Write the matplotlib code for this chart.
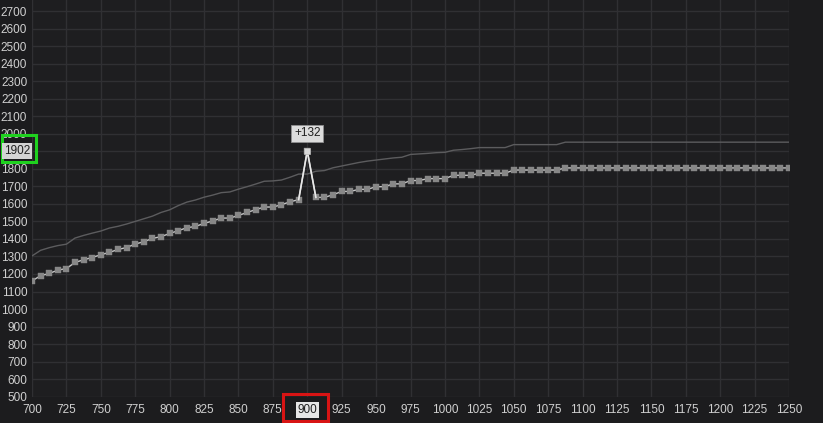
import matplotlib
matplotlib.use("Agg")
from matplotlib import pyplot as plt
from matplotlib.patches import Rectangle
from matplotlib.transforms import blended_transform_factory
import numpy as np

plt.rcParams['font.family'] = ['Liberation Sans', 'DejaVu Sans']

# voltage points (mV), one every 6.25 mV
voltage = np.arange(89) * 6.25 + 700

# edited curve (squares), MHz
curve_mhz = [1161, 1190, 1203, 1222, 1231, 1266, 1281, 1294, 1310, 1323,
             1340, 1351, 1371, 1384, 1403, 1413, 1431, 1447, 1464, 1471,
             1489, 1502, 1519, 1519, 1534, 1551, 1567, 1582, 1582, 1595,
             1612, 1624, 1902, 1637, 1637, 1652, 1671, 1671, 1683, 1683,
             1698, 1698, 1714, 1714, 1733, 1733, 1744, 1744, 1744, 1763,
             1763, 1763, 1775, 1775, 1775, 1775, 1793, 1793, 1793, 1793,
             1793, 1793, 1805, 1805, 1805, 1805, 1805, 1805, 1805, 1805,
             1805, 1805, 1805, 1805, 1805, 1805, 1805, 1805, 1805, 1805,
             1805, 1805, 1805, 1805, 1805, 1805, 1805, 1805, 1805]

# default curve (thin line), MHz
default_mhz = [1303, 1335, 1350, 1362, 1370, 1405, 1420, 1433, 1445, 1462,
               1472, 1485, 1500, 1515, 1530, 1551, 1566, 1590, 1610, 1622,
               1638, 1650, 1664, 1668, 1684, 1698, 1713, 1729, 1731, 1736,
               1752, 1770, 1770, 1786, 1790, 1806, 1816, 1826, 1836, 1844,
               1850, 1856, 1862, 1866, 1882, 1885, 1888, 1892, 1894, 1906,
               1910, 1915, 1921, 1921, 1921, 1921, 1938, 1938, 1938, 1938,
               1938, 1938, 1952, 1952, 1952, 1952, 1952, 1952, 1952, 1952,
               1952, 1952, 1952, 1952, 1952, 1952, 1952, 1952, 1952, 1952,
               1952, 1952, 1952, 1952, 1952, 1952, 1952, 1952, 1952]

x_ticks = [700, 725, 750, 775, 800, 825, 850, 875, 900, 925, 950, 975, 1000,
           1025, 1050, 1075, 1100, 1125, 1150, 1175, 1200, 1225, 1250]
y_ticks = [500, 600, 700, 800, 900, 1000, 1100, 1200, 1300, 1400, 1500, 1600,
           1700, 1800, 1900, 2000, 2100, 2200, 2300, 2400, 2500, 2600, 2700]

sel_index = 32          # the point that was moved
sel_offset = "+132"
sel_value = "1902"

fs = 8.5
bg = "#1c1c1e"
fig = plt.figure(figsize=(8.23, 4.23), dpi=100, facecolor=bg)
ax = fig.add_axes([32 / 823, 0.0622, 757 / 823, 0.9378])
ax.set_facecolor("#1e1e20")
ax.set_xlim(700, 1250)
ax.set_ylim(500, 2763)

for s in ax.spines.values():
    s.set_visible(False)

ax.set_xticks(x_ticks)
ax.set_xticklabels(["" if v == 900 else str(v) for v in x_ticks])
ax.set_yticks(y_ticks)
ax.set_yticklabels(["" if v == 1900 else str(v) for v in y_ticks])
ax.tick_params(length=0, colors="#d0d0d0", labelsize=fs)
ax.tick_params(axis="y", pad=3.4)
ax.tick_params(axis="x", pad=5)
ax.grid(True, color="#303033", lw=1)
ax.set_axisbelow(True)

# default curve
ax.plot(voltage, default_mhz, color="#5c5c5e", lw=1, zorder=2)

# edited curve: line + squares
ax.plot(voltage, curve_mhz, color="#c8c8c8", lw=1, zorder=3)
ax.plot(voltage, curve_mhz, ls="none", marker="s", ms=4.9, mfc="#878787",
        mec="#878787", mew=0.3, zorder=4)
# the selected point
ax.plot([voltage[sel_index - 1], voltage[sel_index], voltage[sel_index + 1]],
        [curve_mhz[sel_index - 1], curve_mhz[sel_index], curve_mhz[sel_index + 1]],
        color="#e8e8e8", lw=1.2, zorder=5)
ax.plot(voltage[sel_index], curve_mhz[sel_index], marker="s", ms=4.9,
        mfc="#d8d8d8", mec="#b8b8b8", mew=0.5, zorder=6)

ax.annotate(sel_offset, (voltage[sel_index], curve_mhz[sel_index]),
            xytext=(0, 8.5), textcoords="offset points", ha="center", va="bottom",
            fontsize=fs, color="#202020", zorder=7,
            bbox=dict(boxstyle="square,pad=0.22", fc="#dcdcdc", ec="#909090", lw=0.6))

# highlighted axis values
tr_y = blended_transform_factory(fig.transFigure, ax.transData)
fig.text(4 / 823, float(sel_value), sel_value, transform=tr_y, ha="left",
         va="center", fontsize=fs, color="#202020",
         bbox=dict(boxstyle="square,pad=0.15", fc="#d4d4d4", ec="none"))
ax.annotate(str(x_ticks[8]), (x_ticks[8], 0), xycoords=ax.get_xaxis_transform(),
            xytext=(0, -5.2), textcoords="offset points", ha="center", va="top",
            fontsize=fs, color="#202020", annotation_clip=False,
            bbox=dict(boxstyle="square,pad=0.15", fc="#e6e6e6", ec="none"))

# green and red frames
fig.add_artist(Rectangle((1.5 / 823, 1839), 34 / 823, 152, transform=tr_y,
                         fill=False, ec="#1fd11f", lw=2.2))
tr_x = blended_transform_factory(ax.transData, fig.transFigure)
fig.add_artist(Rectangle((882.6, 2.5 / 423), 32.7, 26.5 / 423, transform=tr_x,
                         fill=False, ec="#d81414", lw=2.2))

fig.savefig("out.png", dpi=100, facecolor=bg)
